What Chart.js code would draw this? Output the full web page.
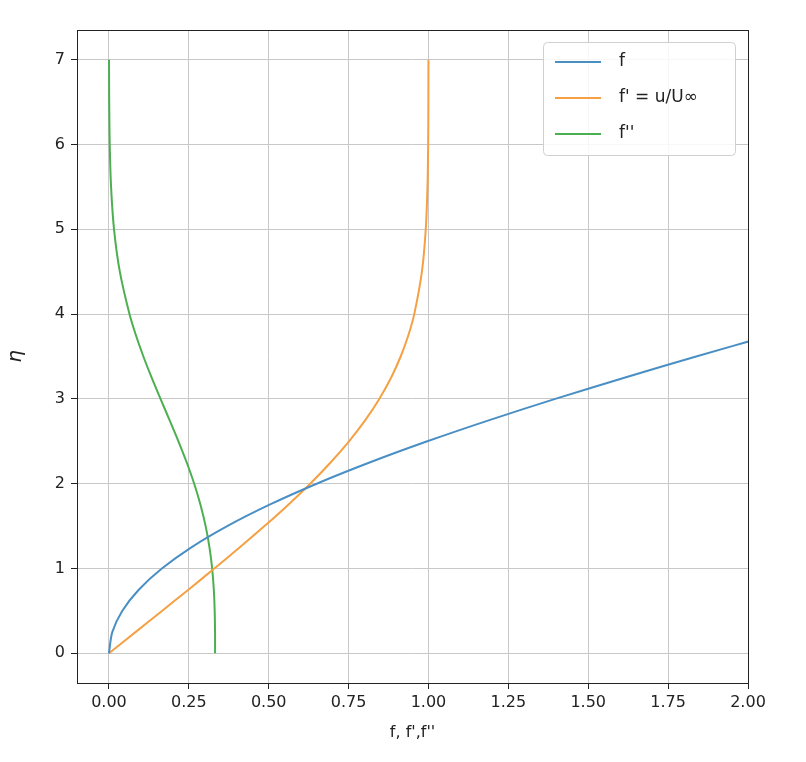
<!DOCTYPE html>
<html><head><meta charset="utf-8">
<script src="https://cdn.jsdelivr.net/npm/chart.js@4/dist/chart.umd.min.js"></script>
<style>html,body{margin:0;padding:0;background:#fff}#c{display:block}</style>
</head><body>
<canvas id="c" width="806" height="762"></canvas>
<script>
const eta   = [0,0.25,0.5,0.75,1.0,1.25,1.5,1.75,2.0,2.25,2.5,2.75,3.0,3.25,3.5,3.75,4.0,4.5,5.0,5.5,6.0,6.5,7.0];
const fVals = [0,0.0104,0.0415,0.0933,0.1656,0.2580,0.3701,0.5011,0.6500,0.8156,0.9963,1.1906,1.3968,1.6131,1.8377,2.0691,2.3057,2.7901,3.2833,3.7806,4.2796,4.7793,5.2792];
const fpVals = [0,0.0830,0.1659,0.2487,0.3298,0.4095,0.4868,0.5605,0.6298,0.6936,0.7513,0.8022,0.8460,0.8829,0.9130,0.9370,0.9555,0.9795,0.9915,0.9969,0.9990,0.9997,0.9999];
const fppVals = [0.3321,0.3320,0.3309,0.3282,0.3230,0.3146,0.3026,0.2866,0.2668,0.2434,0.2174,0.1897,0.1614,0.1337,0.1078,0.0844,0.0642,0.0340,0.0159,0.0066,0.0024,0.0008,0.0002];
const xTicks = [0,0.25,0.5,0.75,1.0,1.25,1.5,1.75,2.0];
const yTicks = [0,1,2,3,4,5,6,7];
const labels = ["f", "f' = u/U\u221E", "f''"];
const colors = ["#4a8fc4","#f5a043","#4caf50"];
const mk = arr => arr.map((v,i)=>({x:v,y:eta[i]}));
const series = [fVals, fpVals, fppVals];

const legendPlugin = {
  id:'mplLegend',
  afterDraw(chart){
    const ctx = chart.ctx, a = chart.chartArea;
    const w = 192, h = 113, x = a.right - w - 13, y = a.top + 12;
    ctx.save();
    ctx.fillStyle='rgba(255,255,255,0.85)';
    ctx.strokeStyle='#d0d0d0'; ctx.lineWidth=1;
    ctx.beginPath(); ctx.roundRect(x+0.5,y+0.5,w,h,4); ctx.fill(); ctx.stroke();
    ctx.font='17px "DejaVu Sans"'; ctx.textBaseline='middle'; ctx.fillStyle='#222';
    labels.forEach((t,i)=>{
      const yy = y + 20 + i*36;
      ctx.strokeStyle=colors[i]; ctx.lineWidth=2;
      ctx.beginPath(); ctx.moveTo(x+12,yy); ctx.lineTo(x+58,yy); ctx.stroke();
      ctx.fillText(t, x+76, yy);
    });
    ctx.restore();
  }
};
const frame = {
  id:'frame',
  afterDatasetsDraw(chart){
    const ctx=chart.ctx,a=chart.chartArea;
    ctx.save(); ctx.strokeStyle='#222'; ctx.lineWidth=1;
    ctx.strokeRect(a.left+0.5,a.top+0.5,a.right-a.left,a.bottom-a.top); ctx.restore();
  }
};
const tickFont = {family:'DejaVu Sans', size:16};
new Chart(document.getElementById('c'), {
  type:'scatter',
  data:{datasets: series.map((s,i)=>({label:labels[i], data:mk(s), showLine:true, borderColor:colors[i], backgroundColor:colors[i], borderWidth:2, pointRadius:0, tension:0.3}))},
  options:{
    responsive:false, animation:false,
    layout:{padding:{left:0,right:58,top:30,bottom:20}},
    plugins:{legend:{display:false}, tooltip:{enabled:false}},
    scales:{
      x:{type:'linear', min:-0.1, max:2.0,
        afterBuildTicks: s=>{s.ticks = xTicks.map(v=>({value:v}));},
        afterFit: s=>{s.height=59;},
        ticks:{font:tickFont, color:'#222', callback:v=>v.toFixed(2), maxRotation:0, padding:4},
        grid:{color:'#c8c8c8', tickColor:'#222', tickLength:6},
        border:{display:false},
        title:{display:true, text:"f, f',f''", font:{family:'DejaVu Sans', size:16}, color:'#222', padding:{top:2,bottom:0}}
      },
      y:{type:'linear', min:-0.35, max:7.35,
        afterBuildTicks: s=>{s.ticks = yTicks.map(v=>({value:v}));},
        afterFit: s=>{s.width=77;},
        ticks:{font:tickFont, color:'#222', padding:6},
        grid:{color:'#c8c8c8', tickColor:'#222', tickLength:6},
        border:{display:false},
        title:{display:true, text:"\u03B7", font:{family:'DejaVu Sans', size:20, style:'italic'}, color:'#222', padding:{bottom:2}}
      }
    }
  },
  plugins:[legendPlugin, frame]
});
</script>
</body></html>
